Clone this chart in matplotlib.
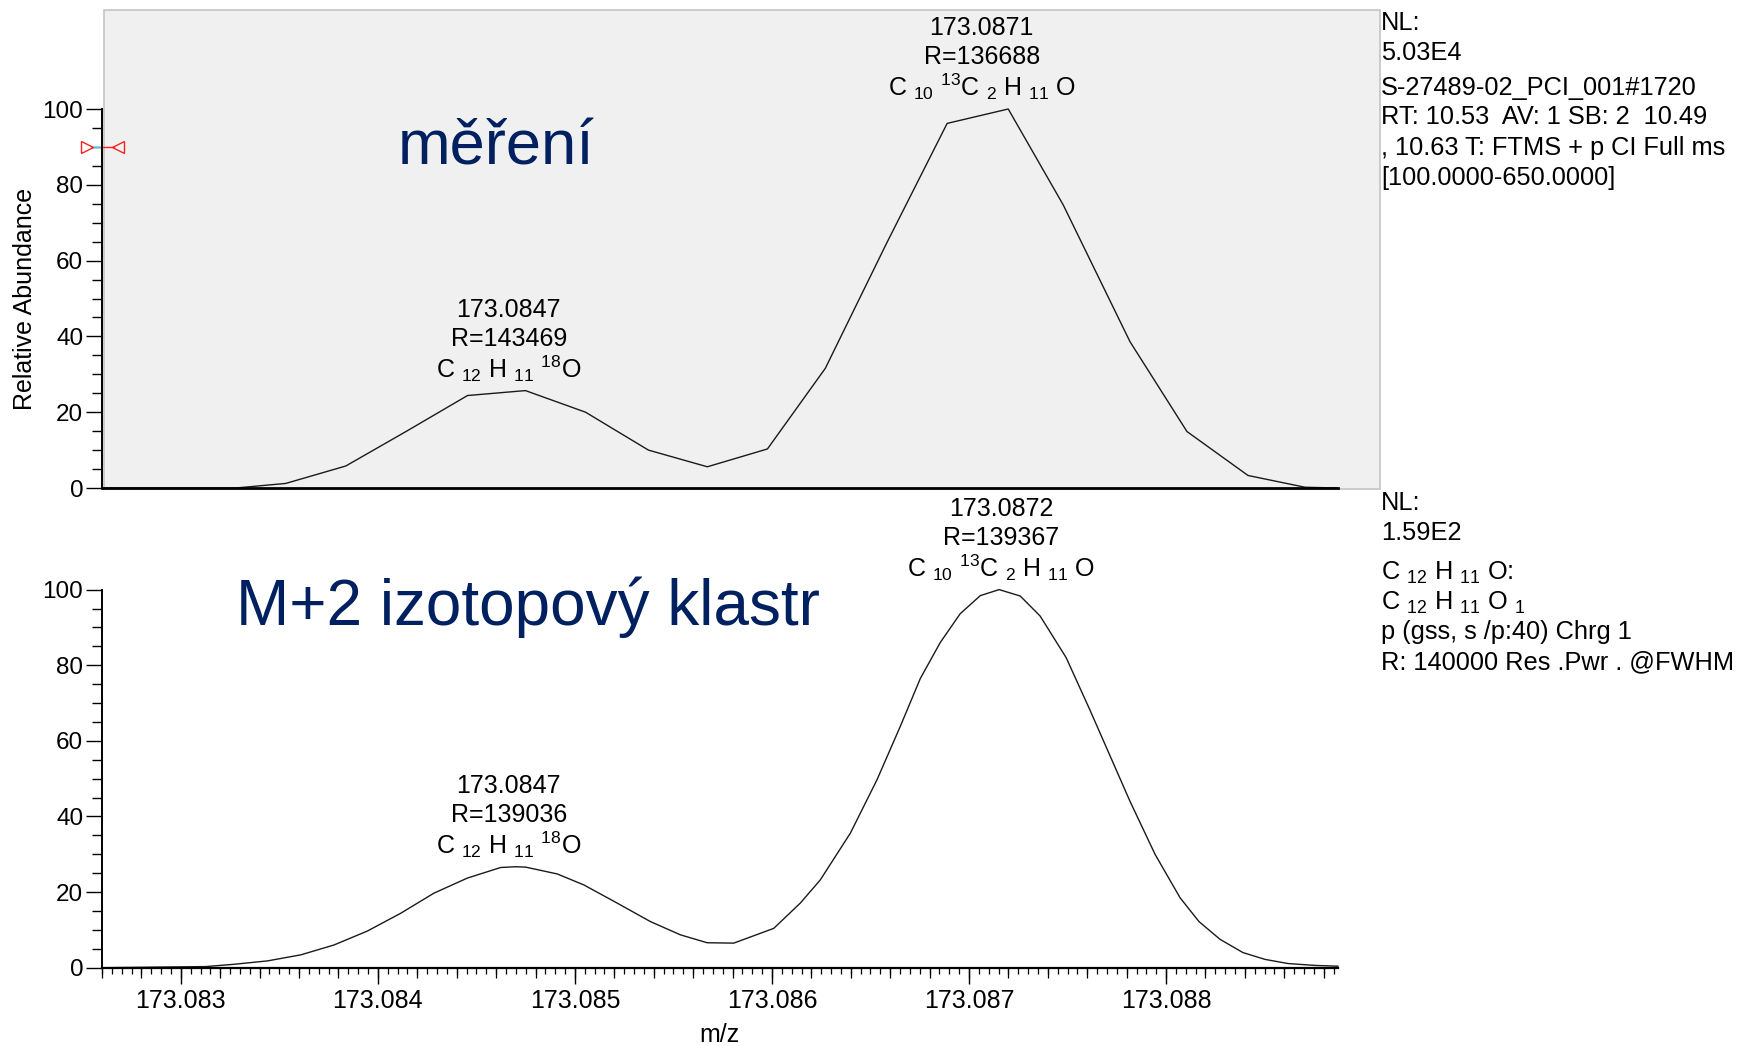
import matplotlib
matplotlib.use("Agg")
import matplotlib.pyplot as plt
from matplotlib.patches import Rectangle
from matplotlib.ticker import MultipleLocator, FormatStrFormatter, NullFormatter

plt.rcParams['font.family'] = ['Liberation Sans', 'DejaVu Sans']
plt.rcParams['mathtext.fontset'] = 'custom'
plt.rcParams['mathtext.rm'] = 'Liberation Sans'
plt.rcParams['mathtext.it'] = 'Liberation Sans:italic'
plt.rcParams['mathtext.bf'] = 'Liberation Sans:bold'

# measured profile scan (m/z, relative abundance)
mz_meas = [173.082604, 173.082975, 173.083279, 173.083532, 173.083837, 173.084146,
           173.084455, 173.084749, 173.085054, 173.085373, 173.085672, 173.085977,
           173.086271, 173.086580, 173.086889, 173.087199, 173.087478, 173.087817,
           173.088106, 173.088416, 173.088705, 173.088867]
ab_meas = [0.0, 0.0, 0.0, 1.2, 5.8, 15.0,
           24.4, 25.7, 20.0, 10.0, 5.6, 10.3,
           31.6, 64.4, 96.2, 100.0, 74.7, 38.6,
           14.9, 3.3, 0.2, 0.0]

# simulated M+2 isotope cluster profile
mz_sim = [173.082604, 173.083127, 173.083270, 173.083440, 173.083609, 173.083777,
          173.083947, 173.084116, 173.084284, 173.084454, 173.084623, 173.084699,
          173.084750, 173.084910, 173.085045, 173.085214, 173.085383, 173.085535,
          173.085671, 173.085806, 173.086009, 173.086144, 173.086245, 173.086398,
          173.086533, 173.086651, 173.086753, 173.086854, 173.086955, 173.087057,
          173.087153, 173.087260, 173.087361, 173.087493, 173.087615, 173.087716,
          173.087817, 173.087944, 173.088071, 173.088167, 173.088274, 173.088390,
          173.088502, 173.088619, 173.088756, 173.088872]
ab_sim = [0.0, 0.3, 0.9, 1.8, 3.4, 6.0,
          9.7, 14.4, 19.7, 23.7, 26.5, 26.7,
          26.6, 24.8, 21.9, 17.1, 12.2, 8.7,
          6.6, 6.5, 10.4, 17.1, 23.2, 35.6,
          49.7, 63.8, 76.5, 86.0, 93.6, 98.4,
          100.0, 98.3, 93.0, 82.0, 68.0, 56.0,
          44.0, 30.0, 18.5, 12.2, 7.5, 4.0,
          2.2, 1.1, 0.6, 0.4]

# peak labels
peak_mz_meas = [173.0847, 173.0871]
peak_ab_meas = [25.7, 100.0]
peak_res_meas = [143469, 136688]
peak_mz_sim = [173.0847, 173.0872]
peak_ab_sim = [26.7, 100.0]
peak_res_sim = [139036, 139367]
peak_formula = [r"C $_{\mathrm{12}}$ H $_{\mathrm{11}}$ $^{\mathrm{18}}$O",
                r"C $_{\mathrm{10}}$ $^{\mathrm{13}}$C $_{\mathrm{2}}$ H $_{\mathrm{11}}$ O"]

info_meas = ["NL:", "5.03E4", "S-27489-02_PCI_001#1720",
             "RT: 10.53  AV: 1 SB: 2  10.49", ", 10.63 T: FTMS + p CI Full ms",
             "[100.0000-650.0000]"]
info_sim = ["NL:", "1.59E2",
            r"C $_{\mathrm{12}}$ H $_{\mathrm{11}}$ O:",
            r"C $_{\mathrm{12}}$ H $_{\mathrm{11}}$ O $_{\mathrm{1}}$",
            "p (gss, s /p:40) Chrg 1", "R: 140000 Res .Pwr . @FWHM"]

marker_level = 90
xlim = (173.08260, 173.08887)

W, H = 1741, 1046
fig = plt.figure(figsize=(W / 100, H / 100), dpi=100)


def fx(px):
    return px / W


def fy(py):
    return 1 - py / H


# grey panel behind the measured spectrum
fig.add_artist(Rectangle((fx(104), fy(489)), fx(1380) - fx(104), fy(10) - fy(489),
                         transform=fig.transFigure, facecolor='#f0f0f0',
                         edgecolor='#c4c4c4', lw=1.2, zorder=-1))

ax1 = fig.add_axes([fx(102), fy(488), fx(1337.5) - fx(102), fy(109) - fy(488)])
ax2 = fig.add_axes([fx(102), fy(967.7), fx(1337.5) - fx(102), fy(589.6) - fy(967.7)])
ax1.set_facecolor('none')

for ax in (ax1, ax2):
    ax.set_xlim(*xlim)
    ax.set_ylim(0, 100)
    ax.spines['top'].set_visible(False)
    ax.spines['right'].set_visible(False)
    ax.spines['left'].set_linewidth(1.4)
    ax.spines['bottom'].set_linewidth(1.6)
    ax.yaxis.set_major_locator(MultipleLocator(20))
    ax.yaxis.set_minor_locator(MultipleLocator(5))
    ax.tick_params(axis='y', which='major', length=11.5, width=1.0, labelsize=17.5, pad=2)
    ax.tick_params(axis='y', which='minor', length=7.2, width=1.0)

ax1.tick_params(axis='x', which='both', length=0, labelbottom=False)
ax1.spines['bottom'].set_linewidth(2.0)

ax1.plot(mz_meas, ab_meas, color='#1a1a1a', lw=1.0, clip_on=False)
ax2.plot(mz_sim, ab_sim, color='#1a1a1a', lw=1.0, clip_on=False)

# m/z axis: 0.001 labelled, 0.0002 medium, 0.00005 small ticks
ax2.xaxis.set_major_locator(MultipleLocator(0.001))
ax2.xaxis.set_major_formatter(FormatStrFormatter('%.3f'))
ax2.xaxis.set_minor_locator(MultipleLocator(0.00005))
ax2.tick_params(axis='x', which='major', length=11.5, width=1.0, labelsize=18, pad=4)
ax2.tick_params(axis='x', which='minor', length=4, width=0.9)
sec = ax2.secondary_xaxis('bottom')
sec.xaxis.set_major_locator(MultipleLocator(0.0002))
sec.xaxis.set_major_formatter(NullFormatter())
sec.tick_params(axis='x', which='major', length=7.5, width=0.9)
sec.tick_params(axis='x', which='minor', length=0)
sec.spines['bottom'].set_visible(False)

# peak annotations: m/z, resolution, formula
for ax, pmz, pab, pres in ((ax1, peak_mz_meas, peak_ab_meas, peak_res_meas),
                           (ax2, peak_mz_sim, peak_ab_sim, peak_res_sim)):
    for m, a, r, f in zip(pmz, pab, pres, peak_formula):
        for txt, dy in ((f"{m:.4f}", 74), (f"R={r}", 45), (f, 13)):
            ax.annotate(txt, (m, a), xytext=(-7, dy), textcoords='offset pixels',
                        ha='center', va='baseline', fontsize=18, annotation_clip=False)

# scan range marker on the intensity axis
tr = ax1.get_yaxis_transform()
ax1.plot([-0.0090, 0.0], [marker_level, marker_level], color='#30d0e0', lw=1.0,
         transform=tr, clip_on=False)
ax1.plot([0.0, 0.0100], [marker_level, marker_level], color='#ff2020', lw=1.0,
         transform=tr, clip_on=False)
ax1.plot([-0.0118], [marker_level], marker='>', ms=8, mfc='none', mec='#ff2020', mew=1.0,
         transform=tr, clip_on=False)
ax1.plot([0.0127], [marker_level], marker='<', ms=8, mfc='none', mec='#ff2020', mew=1.0,
         transform=tr, clip_on=False)

fig.text(fx(25), fy(298.5), "Relative Abundance", rotation=90, ha='center', va='center',
         fontsize=18)
fig.text(fx(719), fy(1042), "m/z", ha='center', va='baseline', fontsize=18)

# panel titles
fig.text(fx(398), fy(165), "měření", color='#002060', fontsize=45.5, va='baseline')
fig.text(fx(236), fy(625), "M+2 izotopový klastr", color='#002060', fontsize=46,
         va='baseline')

# scan information on the right
for txt, yb in zip(info_meas, [30, 60, 94.5, 124.5, 154.5, 185]):
    fig.text(fx(1381), fy(yb), txt, fontsize=18.3, va='baseline')
for txt, yb in zip(info_sim, [509.5, 539.5, 579.5, 609.5, 639.5, 669.5]):
    fig.text(fx(1381), fy(yb), txt, fontsize=18.3, va='baseline')

fig.savefig("out.png", dpi=100, facecolor='white')
